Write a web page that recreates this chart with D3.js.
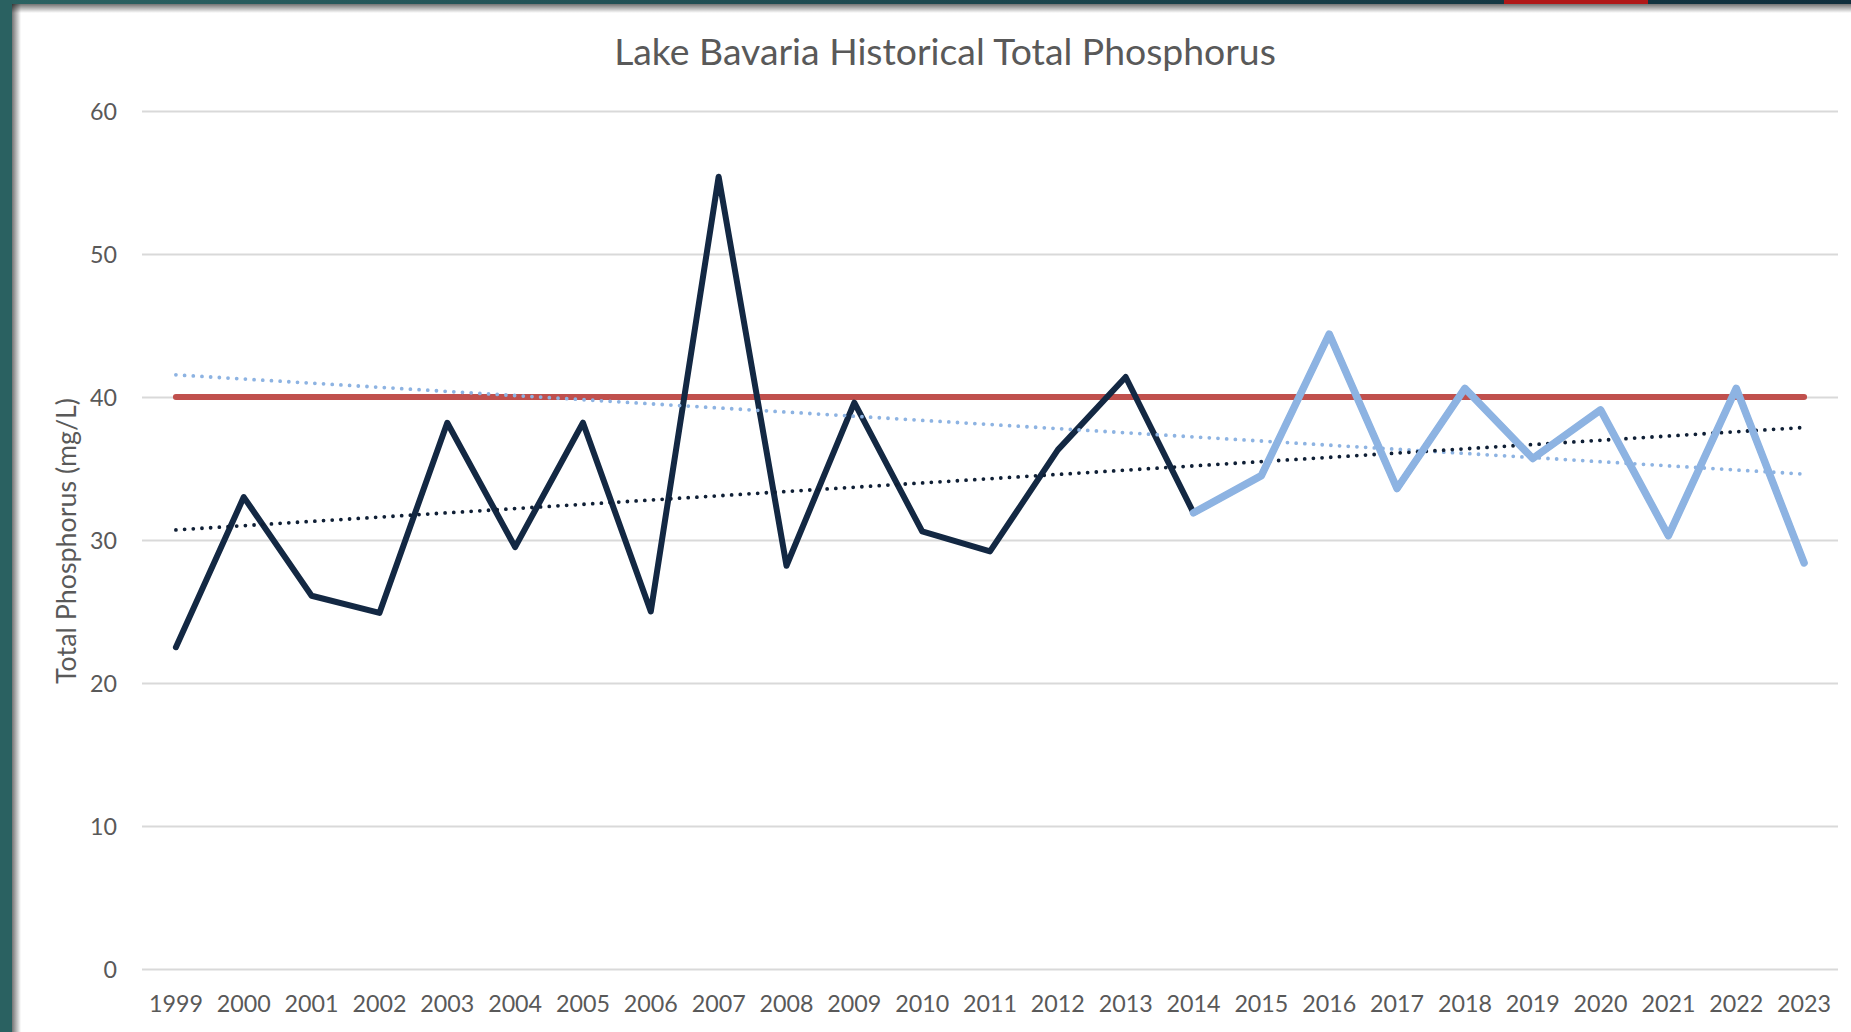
<!DOCTYPE html>
<html>
<head>
<meta charset="utf-8">
<script src="https://cdn.jsdelivr.net/npm/d3@7"></script>
<style>
  html, body { margin: 0; padding: 0; background: #ffffff; }
  svg { display: block; }
  text { font-family: Lato, "Open Sans", "Noto Sans", sans-serif; }
</style>
</head>
<body>
<svg id="chart" width="1851" height="1032"></svg>
<script>
// ---- Data ----
const years = ["1999","2000","2001","2002","2003","2004","2005","2006","2007","2008","2009","2010","2011","2012","2013","2014","2015","2016","2017","2018","2019","2020","2021","2022","2023"];
const historicalTP = [22.5,33.0,26.1,24.9,38.2,29.5,38.2,25.0,55.4,28.2,39.6,30.6,29.2,36.3,41.4,31.9,34.5,44.4,33.6,40.6,35.7,39.1,30.3,40.6,28.4];
const recentYears = ["2014","2015","2016","2017","2018","2019","2020","2021","2022","2023"];
const recentTP = [31.9,34.5,44.4,33.6,40.6,35.7,39.1,30.3,40.6,28.4];
const standardTP = 40;
const yTicks = [0,10,20,30,40,50,60];
const chartTitle = "Lake Bavaria Historical Total Phosphorus";
const yAxisTitle = "Total Phosphorus (mg/L)";

// ---- Layout ----
const W = 1851, H = 1032;
const plot = { left: 142, right: 1838, top: 111, bottom: 969 };
const svg = d3.select("#chart");

// Frame (slide border + shadow)
const defs = svg.append("defs");
const gTop = defs.append("linearGradient").attr("id","shTop").attr("x1",0).attr("y1",0).attr("x2",0).attr("y2",1);
gTop.append("stop").attr("offset","0").attr("stop-color","#000").attr("stop-opacity",0.55);
gTop.append("stop").attr("offset","1").attr("stop-color","#000").attr("stop-opacity",0);
const gLeft = defs.append("linearGradient").attr("id","shLeft").attr("x1",0).attr("y1",0).attr("x2",1).attr("y2",0);
gLeft.append("stop").attr("offset","0").attr("stop-color","#000").attr("stop-opacity",0.55);
gLeft.append("stop").attr("offset","1").attr("stop-color","#000").attr("stop-opacity",0);
const gBar = defs.append("linearGradient").attr("id","barTop").attr("x1",0).attr("y1",0).attr("x2",1).attr("y2",0);
gBar.append("stop").attr("offset","0").attr("stop-color","#2b6262");
gBar.append("stop").attr("offset","1").attr("stop-color","#0f2e3c");

svg.append("rect").attr("x",0).attr("y",4).attr("width",W).attr("height",9).attr("fill","url(#shTop)");
svg.append("rect").attr("x",12).attr("y",0).attr("width",9).attr("height",H).attr("fill","url(#shLeft)");
svg.append("rect").attr("x",0).attr("y",0).attr("width",W).attr("height",4).attr("fill","url(#barTop)");
svg.append("rect").attr("x",1504).attr("y",0).attr("width",144).attr("height",4).attr("fill","#b01818");
svg.append("rect").attr("x",0).attr("y",0).attr("width",12).attr("height",H).attr("fill","#2a6161");

// ---- Scales ----
const x = d3.scaleBand().domain(years).range([plot.left, plot.right]).paddingInner(0).paddingOuter(0);
const cx = d => x(d) + x.bandwidth() / 2;
const y = d3.scaleLinear().domain([0, 60]).range([plot.bottom, plot.top]);

// Font fitting helper (match Calibri widths)
function fitSize(text, target, weight) {
  const t = svg.append("text").attr("font-size", 100).attr("font-weight", weight || 400).text(text);
  const w = t.node().getComputedTextLength();
  t.remove();
  return 100 * target / w;
}
const tickSize = fitSize("2023", 54);
const titleSize = fitSize(chartTitle, 662);
const yTitleSize = fitSize(yAxisTitle, 286);

// ---- Gridlines ----
const yAxis = d3.axisLeft(y).tickValues(yTicks).tickSize(-(plot.right - plot.left)).tickPadding(25).tickFormat(d3.format("d"));
const gy = svg.append("g").attr("transform", `translate(${plot.left},0)`).call(yAxis);
gy.select(".domain").remove();
gy.selectAll(".tick line").attr("stroke", "#d9d9d9").attr("stroke-width", 2);
gy.selectAll(".tick text").attr("fill", "#595959").attr("font-size", tickSize).attr("dy", "0.36em")
  .style("font-family", "Lato, 'Open Sans', sans-serif");

// ---- X axis labels ----
const xAxis = d3.axisBottom(x).tickSize(0).tickPadding(0);
const gx = svg.append("g").attr("transform", `translate(0,${plot.bottom})`).call(xAxis);
gx.select(".domain").remove();
gx.selectAll(".tick text").attr("fill", "#595959").attr("font-size", tickSize).attr("y", 43).attr("dy", 0)
  .style("font-family", "Lato, 'Open Sans', sans-serif");

// ---- Title ----
svg.append("text").attr("x", 945).attr("y", 65).attr("text-anchor", "middle")
  .attr("fill", "#595959").attr("font-size", titleSize).text(chartTitle);

svg.append("text").attr("transform", `translate(76,541) rotate(-90)`).attr("text-anchor", "middle")
  .attr("fill", "#595959").attr("font-size", yTitleSize).text(yAxisTitle);

// ---- Lines ----
const line = d3.line().x(d => cx(d[0])).y(d => y(d[1]));

// Standard line
svg.append("path").datum([[years[0], standardTP], [years[years.length - 1], standardTP]])
  .attr("d", line).attr("fill", "none").attr("stroke", "#c0504d").attr("stroke-width", 6).attr("stroke-linecap", "round");

// Linear regression trendlines (over category index)
function regress(xs, ys) {
  const n = xs.length, mx = d3.mean(xs), my = d3.mean(ys);
  let sxy = 0, sxx = 0;
  for (let i = 0; i < n; i++) { sxy += (xs[i] - mx) * (ys[i] - my); sxx += (xs[i] - mx) ** 2; }
  const b = sxy / sxx;
  return i => my + b * (i - mx);
}
const idxAll = years.map((d, i) => i);
const fHist = regress(idxAll, historicalTP);
const fRecent = regress(recentYears.map(d => years.indexOf(d)), recentTP);
const trendHist = [[years[0], fHist(0)], [years[years.length - 1], fHist(years.length - 1)]];
const trendRecent = [[years[0], fRecent(0)], [years[years.length - 1], fRecent(years.length - 1)]];

// Historical series
svg.append("path").datum(years.map((d, i) => [d, historicalTP[i]]))
  .attr("d", line).attr("fill", "none").attr("stroke", "#132843").attr("stroke-width", 6)
  .attr("stroke-linejoin", "round").attr("stroke-linecap", "round");

// Trendlines
svg.append("path").datum(trendRecent).attr("d", line).attr("fill", "none")
  .attr("stroke", "#8db3e2").attr("stroke-width", 3.8).attr("stroke-linecap", "round").attr("stroke-dasharray", "0 8.7");
svg.append("path").datum(trendHist).attr("d", line).attr("fill", "none")
  .attr("stroke", "#0f1f35").attr("stroke-width", 3.8).attr("stroke-linecap", "round").attr("stroke-dasharray", "0 8.7");

// Recent series
svg.append("path").datum(recentYears.map((d, i) => [d, recentTP[i]]))
  .attr("d", line).attr("fill", "none").attr("stroke", "#8db3e2").attr("stroke-width", 7.5)
  .attr("stroke-linejoin", "round").attr("stroke-linecap", "round");
</script>
</body>
</html>
